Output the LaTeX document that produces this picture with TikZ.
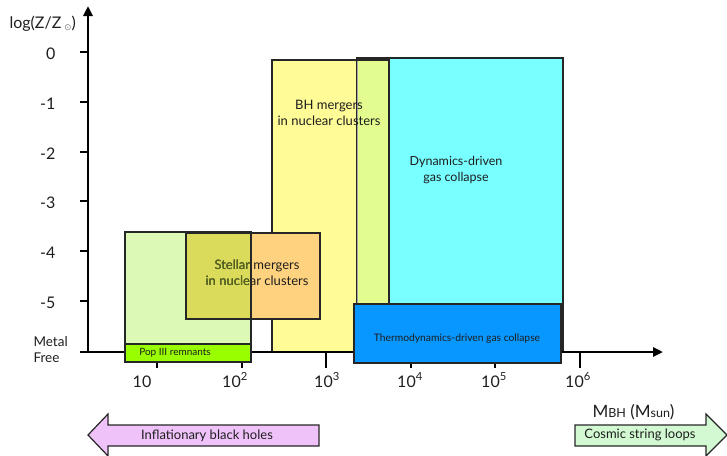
\documentclass[tikz,border=0pt]{standalone}
\usepackage{fontspec}
\setmainfont{Lato}
\newfontfamily\dejavu{DejaVu Sans}
\usetikzlibrary{arrows.meta}
\definecolor{txt}{HTML}{1E1E1E}
\definecolor{lgreen}{HTML}{DDF9B6}
\definecolor{popgreen}{HTML}{99FF00}
\definecolor{orng}{HTML}{FFD27F}
\definecolor{olive}{HTML}{DADB5B}
\definecolor{olivetxt}{HTML}{5A6A1E}
\definecolor{yel}{HTML}{FFFB96}
\definecolor{cyn}{HTML}{78FFFF}
\definecolor{yc}{HTML}{E2FC8F}
\definecolor{thermo}{HTML}{0896FF}
\definecolor{violet}{HTML}{EFC3FA}
\definecolor{mint}{HTML}{D2F9D2}
\begin{document}
\begin{tikzpicture}[x=1pt,y=-1pt,
  box/.style={draw=black!85, line width=1.4pt},
  lbl/.style={font=\fontsize{13}{16}\selectfont, text=txt, align=center},
  ticklbl/.style={font=\fontsize{16}{18}\selectfont, text=txt},
  axtick/.style={line width=1.6pt, black},
  blockarrow/.style={draw=black!85, line width=1.2pt, line join=miter}]
\useasboundingbox (0,0) rectangle (727,455);
\clip (0,0) rectangle (727,455);

% --- big regions ---
\fill[cyn] (357,58) rectangle (563,352);
\fill[yel] (272,60) rectangle (357,352);
\fill[yc] (357,60) rectangle (389,352);
\draw[line width=1.4pt, black!85] (357,352) |- (563,58) -- (563,352);
\draw[line width=1pt, black!35] (357,60) -- (357,352);
\draw[box] (272,352) |- (389,60) -- (389,352);

\node[lbl] (bh) at (329,113) {BH mergers\\in nuclear clusters};
\node[lbl, font=\fontsize{12.5}{16}\selectfont] (dyn) at (456,170) {Dynamics-driven\\gas collapse};

% --- low-mass regions ---
\fill[lgreen] (125,232) rectangle (251,344);
\fill[orng] (186,233) rectangle (320,319);
\fill[olive] (186,233) rectangle (251,319);
\node[lbl] (stellar) at (257,273) {Stellar mergers\\in nuclear clusters};
\begin{scope}
  \clip (186,233) rectangle (251,319);
  \node[lbl, text=olivetxt] at (257,273) {Stellar mergers\\in nuclear clusters};
\end{scope}
\draw[box] (125,232) rectangle (251,344);
\draw[box] (186,233) rectangle (320,319);

% --- axes ---
\coordinate (O) at (88,352);
\coordinate (ytip) at (88,6);
\coordinate (xtip) at (663,352);
\draw[line width=2.6pt, line join=miter, {Triangle[length=10pt,width=9pt]}-{Triangle[length=10pt,width=9pt]}] (ytip) -- (O) -- (xtip);

\foreach \y/\t in {52/0,102/-1,152/-2,201/-3,251/-4,301/-5}{
  \draw[axtick] (80,\y) -- (88,\y);
  \node[ticklbl, anchor=east] at (59,\y+2) {\t};
}
\draw[axtick] (80,352) -- (88,352);
\node[font=\fontsize{13.5}{16}\selectfont, text=txt, align=left, anchor=west] (mf) at (30,350) {Metal\\Free};

\foreach \x in {157,242,326,411,495,580}{
  \draw[axtick] (\x,352) -- (\x,368);
}
\node[ticklbl] (t1) at (142,382) {10};
\node[ticklbl] (t2) at (235,380) {10\textsuperscript{2}};
\node[ticklbl] (t3) at (327,380) {10\textsuperscript{3}};
\node[ticklbl] (t4) at (410,380) {10\textsuperscript{4}};
\node[ticklbl] (t5) at (494,380) {10\textsuperscript{5}};
\node[ticklbl] (t6) at (578,380) {10\textsuperscript{6}};

\node[ticklbl, anchor=west] (ylab) at (6,24) {log(Z/Z\,{\color{gray}\raisebox{-2pt}{\dejavu\fontsize{9}{9}\selectfont ⊙}})};
\node[font=\fontsize{17}{19}\selectfont, text=txt, anchor=west] (xlab) at (589,412) {M\raisebox{-0.5pt}{\fontsize{12.5}{13}\selectfont BH} (M\raisebox{-0.5pt}{\fontsize{12.5}{13}\selectfont sun})};

% --- bars on top of axis ---
\draw[box, fill=popgreen] (125,344) rectangle (251,362);
\node[font=\fontsize{10}{12}\selectfont, text=txt] (pop) at (175,353) {Pop III remnants};
\draw[box, fill=thermo] (354,304) rectangle (561,363);
\node[font=\fontsize{10.3}{13}\selectfont, text=txt] (th) at (457,339) {Thermodynamics-driven gas collapse};

% --- block arrows ---
\draw[blockarrow, fill=violet] (319,425) -- (108,425) -- (108,414) -- (88,435) -- (108,456) -- (108,446) -- (319,446) -- cycle;
\node[lbl] (infl) at (207,436) {Inflationary black holes};
\draw[blockarrow, fill=mint] (575,425) -- (706,425) -- (706,414) -- (727,435) -- (706,456) -- (706,446) -- (575,446) -- cycle;
\node[lbl] (cosm) at (640,435) {Cosmic string loops};
\end{tikzpicture}
\end{document}
